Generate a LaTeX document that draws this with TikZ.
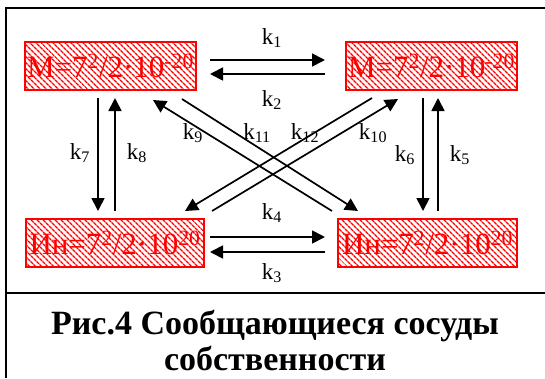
\documentclass[tikz,border=0pt]{standalone}
\usepackage{fontspec}
\setmainfont{Liberation Serif}
\usetikzlibrary{arrows.meta,patterns.meta}
\tikzset{
  box/.style={draw=red, line width=1.8pt, inner sep=0pt, minimum height=48pt,
    text=red, font=\fontsize{31}{31}\selectfont,
    pattern={Lines[angle=-45,distance=4pt,line width=1.4pt]}, pattern color=red},
  arr/.style={line width=1.7pt, -{Triangle[length=13pt,width=13pt]}},
  klab/.style={font=\fontsize{23}{23}\selectfont, inner sep=0pt},
  frame/.style={line width=2.4pt},
  caption/.style={font=\fontsize{34}{36}\selectfont\bfseries, align=center}
}
\begin{document}
\begin{tikzpicture}[x=1pt,y=-1pt]
\useasboundingbox (0,0) rectangle (545,378);
% frame
\coordinate (f1) at (6,8);
\coordinate (f2) at (545,8);
\coordinate (f3) at (6,378);
\coordinate (d1) at (6,293);
\coordinate (d2) at (545,293);
\draw[frame] (f2) -- (f1) -- (f3);
\draw[frame] (d1) -- (d2);
% boxes
\node[box, minimum width=171pt] (tl) at (110.5,66) {М=7\textsuperscript{2}/2·10\textsuperscript{-20}};
\node[box, minimum width=171pt] (tr) at (431.5,66) {М=7\textsuperscript{2}/2·10\textsuperscript{-20}};
\node[box, minimum width=178pt] (bl) at (115,243) {Ин=7\textsuperscript{2}/2·10\textsuperscript{20}};
\node[box, minimum width=179pt] (br) at (427.5,243) {Ин=7\textsuperscript{2}/2·10\textsuperscript{20}};
% arrow end points
\coordinate (a1s) at (210,60);  \coordinate (a1e) at (325,60);
\coordinate (a2s) at (325,74);  \coordinate (a2e) at (210,74);
\coordinate (a4s) at (210,237); \coordinate (a4e) at (325,237);
\coordinate (a3s) at (325,252); \coordinate (a3e) at (210,252);
\coordinate (a7s) at (98,98);   \coordinate (a7e) at (98,211);
\coordinate (a8s) at (115,211); \coordinate (a8e) at (115,98);
\coordinate (a6s) at (423,98);  \coordinate (a6e) at (423,211);
\coordinate (a5s) at (438,211); \coordinate (a5e) at (438,98);
\coordinate (a9s) at (332,211); \coordinate (a9e) at (153,100);
\coordinate (a11s) at (182,99); \coordinate (a11e) at (358,211);
\coordinate (a12s) at (372,98); \coordinate (a12e) at (185,211);
\coordinate (a10s) at (212,211);\coordinate (a10e) at (398,99);
\draw[arr] (a1s) -- (a1e);
\draw[arr] (a2s) -- (a2e);
\draw[arr] (a4s) -- (a4e);
\draw[arr] (a3s) -- (a3e);
\draw[arr] (a7s) -- (a7e);
\draw[arr] (a8s) -- (a8e);
\draw[arr] (a6s) -- (a6e);
\draw[arr] (a5s) -- (a5e);
\draw[arr] (a9s) -- (a9e);
\draw[arr] (a11s) -- (a11e);
\draw[arr] (a12s) -- (a12e);
\draw[arr] (a10s) -- (a10e);
% labels
\node[klab] (k1) at (272,38) {k\textsubscript{1}};
\node[klab] (k2) at (272,100) {k\textsubscript{2}};
\node[klab] (k4) at (272,213) {k\textsubscript{4}};
\node[klab] (k3) at (272,273) {k\textsubscript{3}};
\node[klab] (k7) at (80,153) {k\textsubscript{7}};
\node[klab] (k8) at (137,153) {k\textsubscript{8}};
\node[klab] (k6) at (405,155) {k\textsubscript{6}};
\node[klab] (k5) at (460,155) {k\textsubscript{5}};
\node[klab] (k9) at (193,133) {k\textsubscript{9}};
\node[klab] (k11) at (257,133) {k\textsubscript{11}};
\node[klab] (k12) at (305,133) {k\textsubscript{12}};
\node[klab] (k10) at (373,133) {k\textsubscript{10}};
% caption
\node[caption] (cap) at (275,340) {Рис.4 Сообщающиеся сосуды\\собственности};
\end{tikzpicture}
\end{document}
